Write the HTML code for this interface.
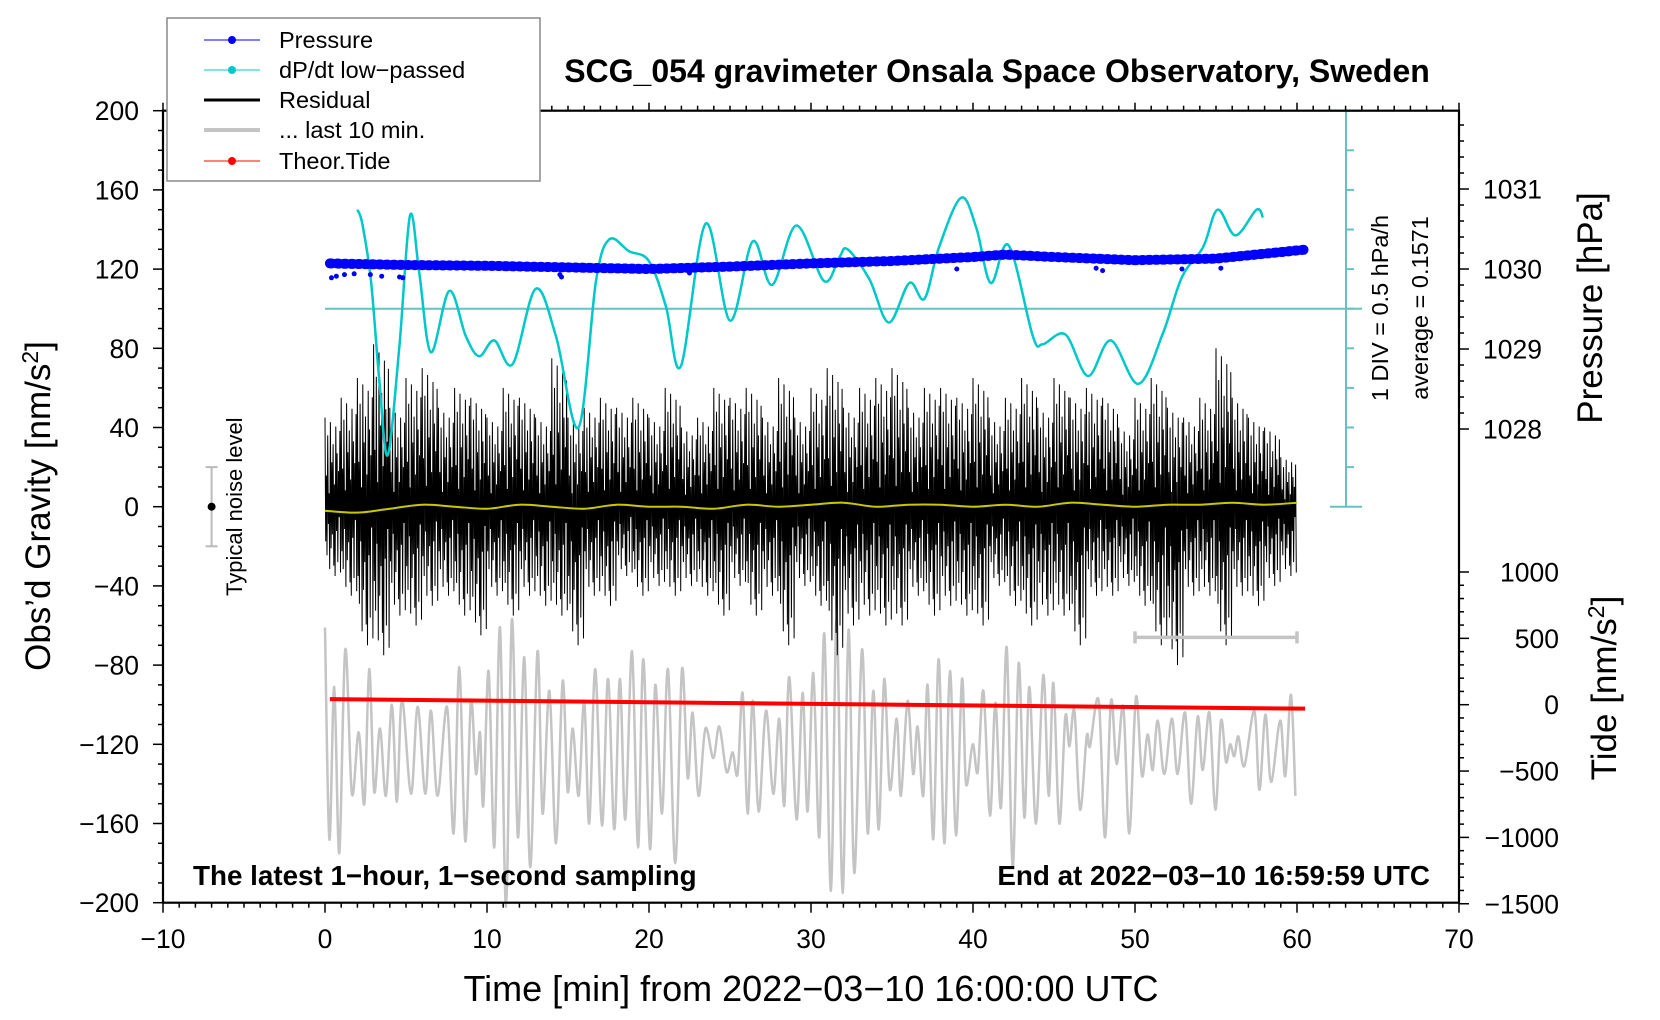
<!DOCTYPE html>
<html><head><meta charset="utf-8"><style>
html,body{margin:0;padding:0;background:#fff}
svg{display:block;font-family:"Liberation Sans",Arial,sans-serif}
</style></head><body>
<svg id="chart" width="1660" height="1020" viewBox="0 0 1660 1020" xmlns="http://www.w3.org/2000/svg">
<g id="layer"></g>
</svg>
<script>
// ---- data ----
const xTicks = [-10,0,10,20,30,40,50,60,70];
const yTicks = [200,160,120,80,40,0,-40,-80,-120,-160,-200];
const pTicks = [1031,1030,1029,1028];
const tideTicks = [1000,500,0,-500,-1000,-1500];
// dP/dt low-passed (minutes, gravity-axis units)
const cyanT = [2.0,2.3,2.84,3.35,3.87,4.59,5.25,5.82,6.54,7.67,8.7,9.52,10.45,11.58,13.0,14.26,15.65,16.73,17.55,18.78,20.0,21.05,21.97,23.5,25.0,26.4,27.6,29.1,30.8,31.75,32.26,33.6,34.8,36.07,37.0,37.9,39.26,40.2,41.1,42.2,43.7,44.3,45.7,47.1,48.5,50.2,51.7,52.9,54.2,55.1,56.2,57.5,57.9];
const cyanV = [150,143,114,64,26,81,147,118,78,109,86,76,84,72,110,86,40,114,135,129,124,101,71,143,94,134,112,142,114,126,130,115,93,113,105,131,156,141,113,132,86,82,87,66,84,62,87,116,131,150,137,150,146];
// pressure (minutes, hPa)
const presT = [0.3,5,10,15,20,25,30,35,40,42,45,50,55,60.4];
const presV = [1030.07,1030.05,1030.04,1030.02,1030.0,1030.03,1030.07,1030.1,1030.15,1030.18,1030.15,1030.11,1030.13,1030.24];
const presOutT = [0.4,0.7,1.2,1.8,2.8,3.5,4.6,4.8,14.5,14.6,22.5,39,47.6,48,52.9,55.3];
const presOutV = [1029.89,1029.91,1029.93,1029.94,1029.93,1029.91,1029.9,1029.89,1029.93,1029.9,1029.95,1030.0,1030.01,1029.98,1030.0,1030.01];
// theoretical tide (minutes, nm/s^2)
const tideT = [0.3,60.5];
const tideV = [42,-30];
// residual envelope per minute (gravity units)
const resTop = [45,55,65,82,50,65,70,50,60,55,45,60,55,45,75,45,50,55,50,55,45,60,40,45,60,55,60,45,65,45,60,70,50,60,65,70,50,60,60,55,65,45,55,65,50,65,55,60,55,40,55,65,50,45,55,80,55,45,40,25];
const resBot = [-35,-45,-70,-75,-55,-60,-50,-45,-55,-65,-45,-55,-45,-50,-55,-70,-45,-50,-35,-45,-40,-45,-40,-45,-55,-40,-55,-45,-70,-40,-50,-75,-60,-55,-60,-60,-45,-55,-50,-55,-60,-40,-50,-60,-55,-55,-70,-45,-45,-40,-50,-70,-80,-45,-45,-70,-45,-50,-40,-35];
// low-passed residual (yellow)
const yelT = [0,2,4,6,8,10,12,14,16,18,20,22,24,26,28,30,32,34,36,38,40,42,44,46,48,50,52,54,56,58,60];
const yelV = [-2,-3,-1,1,0,-1,1,0,-1,1,0,0,-1,1,0,1,2,0,1,1,0,1,0,2,1,0,1,1,2,1,2];
// last 10 min (gray), extremes
const grayT = [0,0.27,0.57,0.88,1.25,1.66,2.08,2.43,2.73,3.04,3.39,3.76,4.13,4.44,4.75,5.31,5.72,6.19,6.54,6.95,7.53,7.94,8.29,8.66,9.01,9.32,9.57,9.77,10.1,10.45,10.8,11.17,11.54,11.91,12.3,12.67,13.12,13.43,13.85,14.26,14.67,14.98,15.29,15.66,16.0,16.31,16.68,17.1,17.47,17.86,18.2,18.54,18.95,19.32,19.65,20.06,20.39,20.8,21.17,21.62,22.04,22.39,22.69,23.06,23.48,23.97,24.34,24.79,25.16,25.47,25.78,26.09,26.4,26.77,27.22,27.67,28.04,28.35,28.66,29.11,29.48,29.79,30.14,30.51,30.82,31.23,31.58,31.95,32.32,32.67,33.15,33.5,33.85,34.18,34.52,34.87,35.29,35.55,35.96,36.31,36.58,36.93,37.2,37.55,37.88,38.23,38.58,38.95,39.32,39.57,39.98,40.29,40.64,41.05,41.38,41.73,42.08,42.45,42.82,43.17,43.48,43.89,44.34,44.67,44.96,45.33,45.7,45.95,46.26,46.61,47.02,47.22,47.76,48.15,48.52,48.87,49.28,49.65,50.06,50.43,50.78,51.09,51.4,51.81,52.28,52.63,53.09,53.46,53.87,54.18,54.59,54.96,55.31,55.62,55.87,56.13,56.38,56.75,57.37,57.68,58.05,58.4,58.96,59.28,59.63,59.9];
const grayV = [-61,-168,-91,-175,-72,-145,-114,-150,-82,-144,-112,-146,-100,-149,-97,-145,-101,-145,-103,-146,-101,-165,-81,-169,-98,-135,-114,-151,-83,-172,-61,-202,-57,-167,-76,-182,-73,-155,-93,-170,-88,-144,-112,-146,-98,-160,-82,-161,-87,-163,-87,-158,-73,-172,-77,-173,-90,-155,-82,-180,-82,-137,-104,-146,-112,-127,-111,-134,-124,-135,-94,-155,-98,-154,-103,-145,-107,-151,-86,-158,-94,-154,-84,-167,-64,-194,-57,-195,-62,-185,-72,-165,-93,-163,-87,-143,-107,-146,-98,-135,-111,-146,-90,-168,-77,-170,-83,-166,-87,-140,-120,-134,-93,-156,-99,-152,-71,-182,-79,-157,-91,-160,-85,-146,-89,-160,-106,-121,-103,-153,-116,-121,-98,-167,-98,-130,-101,-165,-96,-136,-115,-133,-108,-135,-107,-135,-104,-150,-106,-133,-104,-153,-108,-129,-120,-126,-116,-131,-103,-143,-105,-139,-108,-136,-95,-146];

// ---- axes ----
const X0=163, X1=1459, Y0=110.7, Y1=902.7;
const xs = t => X0 + (t+10)/80*(X1-X0);
const yg = g => Y1 - (g+200)/400*(Y1-Y0);
const yp = p => 269 - (p-1030)*80;
const yt = v => 704.7 - v*0.1327;

const NS="http://www.w3.org/2000/svg";
const layer=document.getElementById('layer');
function mk(tag,attrs,parent){const e=document.createElementNS(NS,tag);for(const k in attrs)e.setAttribute(k,attrs[k]);(parent||layer).appendChild(e);return e;}
function txt(s,attrs,parent){const e=mk('text',attrs,parent);e.textContent=s;return e;}
function smooth(pts){let d='M'+pts[0][0].toFixed(1)+','+pts[0][1].toFixed(1);for(let i=0;i<pts.length-1;i++){const p0=pts[Math.max(0,i-1)],p1=pts[i],p2=pts[i+1],p3=pts[Math.min(pts.length-1,i+2)];const c1=[p1[0]+(p2[0]-p0[0])/6,p1[1]+(p2[1]-p0[1])/6],c2=[p2[0]-(p3[0]-p1[0])/6,p2[1]-(p3[1]-p1[1])/6];d+='C'+c1[0].toFixed(1)+','+c1[1].toFixed(1)+' '+c2[0].toFixed(1)+','+c2[1].toFixed(1)+' '+p2[0].toFixed(1)+','+p2[1].toFixed(1);}return d;}

// cyan scale axis & average line
const cy=mk('g',{stroke:'#66c2c2','stroke-width':2});


mk('line',{x1:1346,y1:Y0,x2:1346,y2:yg(0)},cy);
mk('line',{x1:1330,y1:Y0,x2:1362,y2:Y0},cy);
mk('line',{x1:1330,y1:yg(0),x2:1362,y2:yg(0)},cy);
for(let g=20;g<200;g+=20) mk('line',{x1:1346,y1:yg(g),x2:1354,y2:yg(g)},cy);
const avg=mk('line',{x1:xs(0),y1:yg(100),x2:1362,y2:yg(100),stroke:'#66c2c2','stroke-width':2});



// gray last 10 min
const gp=mk('path',{d:smooth(grayT.map((t,i)=>[xs(t),yg(grayV[i])])),fill:'none',stroke:'#c4c4c4','stroke-width':2.5});



// residual
const wig=[1,0.35,0.8,0.15,0.95,0.5,0.7,0.25,0.9,0.6,0.4,0.85];
let rd='';
resTop.forEach((tp,m)=>{for(let k=0;k<12;k++){const t=m+k/12;rd+=(rd?'L':'M')+xs(t).toFixed(1)+','+yg(tp*wig[k]).toFixed(1)+'L'+xs(t+1/24).toFixed(1)+','+yg(resBot[m]*wig[(k+5)%12]).toFixed(1);}});
const rp=mk('path',{d:rd,fill:'none',stroke:'#000','stroke-width':1});



// yellow
const yp2=mk('path',{d:smooth(yelT.map((t,i)=>[xs(t),yg(yelV[i])])),fill:'none',stroke:'#c8c800','stroke-width':2});



// cyan dp/dt
const cp=mk('path',{d:smooth(cyanT.map((t,i)=>[xs(t),yg(cyanV[i])])),fill:'none',stroke:'#00c8c8','stroke-width':2.5});



// pressure
const pd='M'+presT.map((t,i)=>xs(t).toFixed(1)+','+yp(presV[i]).toFixed(1)).join('L');
const pp=mk('path',{d:pd,fill:'none',stroke:'#0000ff','stroke-width':6,'stroke-linejoin':'round'});


const pp2=mk('path',{d:pd,fill:'none',stroke:'#0000ff','stroke-width':10,'stroke-dasharray':'2 5','stroke-linecap':'round'});


presOutT.forEach((t,i)=>{const c=mk('circle',{cx:xs(t),cy:yp(presOutV[i]),r:2.5,fill:'#0000ff'});

});

// tide
const tp=mk('line',{x1:xs(tideT[0]),y1:yt(tideV[0]),x2:xs(tideT[1]),y2:yt(tideV[1]),stroke:'#ff0000','stroke-width':4});



// 10 min bar
const tb=mk('g',{stroke:'#c4c4c4','stroke-width':3.5});


mk('line',{x1:xs(50),y1:yg(-66),x2:xs(60),y2:yg(-66)},tb);
mk('line',{x1:xs(50),y1:yg(-66)-6,x2:xs(50),y2:yg(-66)+6},tb);
mk('line',{x1:xs(60),y1:yg(-66)-6,x2:xs(60),y2:yg(-66)+6},tb);

// noise level
const nz=mk('g',{});


mk('line',{x1:xs(-7),y1:yg(20),x2:xs(-7),y2:yg(-20),stroke:'#bbb','stroke-width':2},nz);
mk('line',{x1:xs(-7)-6,y1:yg(20),x2:xs(-7)+6,y2:yg(20),stroke:'#bbb','stroke-width':2},nz);
mk('line',{x1:xs(-7)-6,y1:yg(-20),x2:xs(-7)+6,y2:yg(-20),stroke:'#bbb','stroke-width':2},nz);
mk('circle',{cx:xs(-7),cy:yg(0),r:4,fill:'#000'},nz);
txt('Typical noise level',{x:0,y:0,transform:`translate(242,${yg(0)}) rotate(-90)`,'text-anchor':'middle','font-size':22},nz);

// frame
const fr=mk('rect',{x:X0,y:Y0,width:X1-X0,height:Y1-Y0,fill:'none',stroke:'#000','stroke-width':2.2});



// ticks
const tk=mk('g',{stroke:'#000','stroke-width':1.5});


for(let t=-10;t<=70;t++){const L=(t%10===0)?10:5;mk('line',{x1:xs(t),y1:Y1,x2:xs(t),y2:Y1+L},tk);mk('line',{x1:xs(t),y1:Y0,x2:xs(t),y2:Y0-(t%10===0?8:5)},tk);}
for(let g=-200;g<=200;g+=10){mk('line',{x1:X0,y1:yg(g),x2:X0-(g%40===0?10:5),y2:yg(g)},tk);}
for(let p=1032;p>=1027.85;p-=0.2){const py=yp(p);if(py<Y0-0.5)continue;const maj=Math.abs(p-Math.round(p))<0.01;mk('line',{x1:X1,y1:py,x2:X1+(maj?10:5),y2:py},tk);}
for(let v=1000;v>=-1500;v-=100){mk('line',{x1:X1,y1:yt(v),x2:X1+(v%500===0?10:5),y2:yt(v)},tk);}

// labels
const xl=mk('g',{'font-size':26.5,'text-anchor':'middle'});


xTicks.forEach(t=>txt(String(t).replace('-','\u2212'),{x:xs(t),y:948},xl));
const yl=mk('g',{'font-size':26.5,'text-anchor':'end'});


yTicks.forEach(g=>txt(String(g).replace('-','\u2212'),{x:139,y:yg(g)+9.5},yl));
const pl=mk('g',{'font-size':26.5});


pTicks.forEach(p=>txt(String(p),{x:1483,y:yp(p)+9.5},pl));
const tl=mk('g',{'font-size':26.5,'text-anchor':'end'});


tideTicks.forEach(v=>txt(String(v).replace('-','\u2212'),{x:1559,y:yt(v)+9.5},tl));
</script>
<div style="position:absolute;left:0;top:0;width:1660px;height:1020px;pointer-events:none">
<svg width="1660" height="1020" viewBox="0 0 1660 1020" xmlns="http://www.w3.org/2000/svg" style="font-family:'Liberation Sans',Arial,sans-serif">
<text x="997" y="82" text-anchor="middle" font-size="32" font-weight="bold">SCG_054 gravimeter Onsala Space Observatory, Sweden</text>
<text x="193" y="885" font-size="27.8" font-weight="bold">The latest 1−hour, 1−second sampling</text>
<text x="1430" y="885" text-anchor="end" font-size="27.8" font-weight="bold">End at 2022−03−10 16:59:59 UTC</text>
<text x="811" y="1001" text-anchor="middle" font-size="36">Time [min] from 2022−03−10 16:00:00 UTC</text>
<text transform="translate(50,506) rotate(-90)" text-anchor="middle" font-size="35">Obs’d Gravity [nm/s<tspan font-size="23" dy="-12">2</tspan><tspan dy="12">]</tspan></text>
<text transform="translate(1602,308) rotate(-90)" text-anchor="middle" font-size="35">Pressure [hPa]</text>
<text transform="translate(1616,688) rotate(-90)" text-anchor="middle" font-size="35">Tide [nm/s<tspan font-size="23" dy="-12">2</tspan><tspan dy="12">]</tspan></text>
<text transform="translate(1388,308) rotate(-90)" text-anchor="middle" font-size="23.5">1 DIV = 0.5 hPa/h</text>
<text transform="translate(1428,308) rotate(-90)" text-anchor="middle" font-size="23.5">average = 0.1571</text>
<g>
<rect x="167" y="18" width="373" height="163" fill="#fff" stroke="#888" stroke-width="1.5"/>
<g><line x1="204" y1="40" x2="260" y2="40" stroke="#0000ff" stroke-width="1"/><circle cx="232" cy="40" r="4" fill="#0000ff"/><text x="279" y="48" font-size="23.5">Pressure</text></g>
<g><line x1="204" y1="70" x2="260" y2="70" stroke="#00c8c8" stroke-width="1"/><circle cx="232" cy="70" r="4" fill="#00c8c8"/><text x="279" y="78" font-size="23.5">dP/dt low−passed</text></g>
<g><line x1="204" y1="100" x2="260" y2="100" stroke="#000" stroke-width="3"/><text x="279" y="108" font-size="23.5">Residual</text></g>
<g><line x1="204" y1="130" x2="260" y2="130" stroke="#c4c4c4" stroke-width="4"/><text x="279" y="138" font-size="23.5">... last 10 min.</text></g>
<g><line x1="204" y1="161" x2="260" y2="161" stroke="#ff0000" stroke-width="1"/><circle cx="232" cy="161" r="4" fill="#ff0000"/><text x="279" y="169" font-size="23.5">Theor.Tide</text></g>
</g>
</svg>
</div>
</body></html>
